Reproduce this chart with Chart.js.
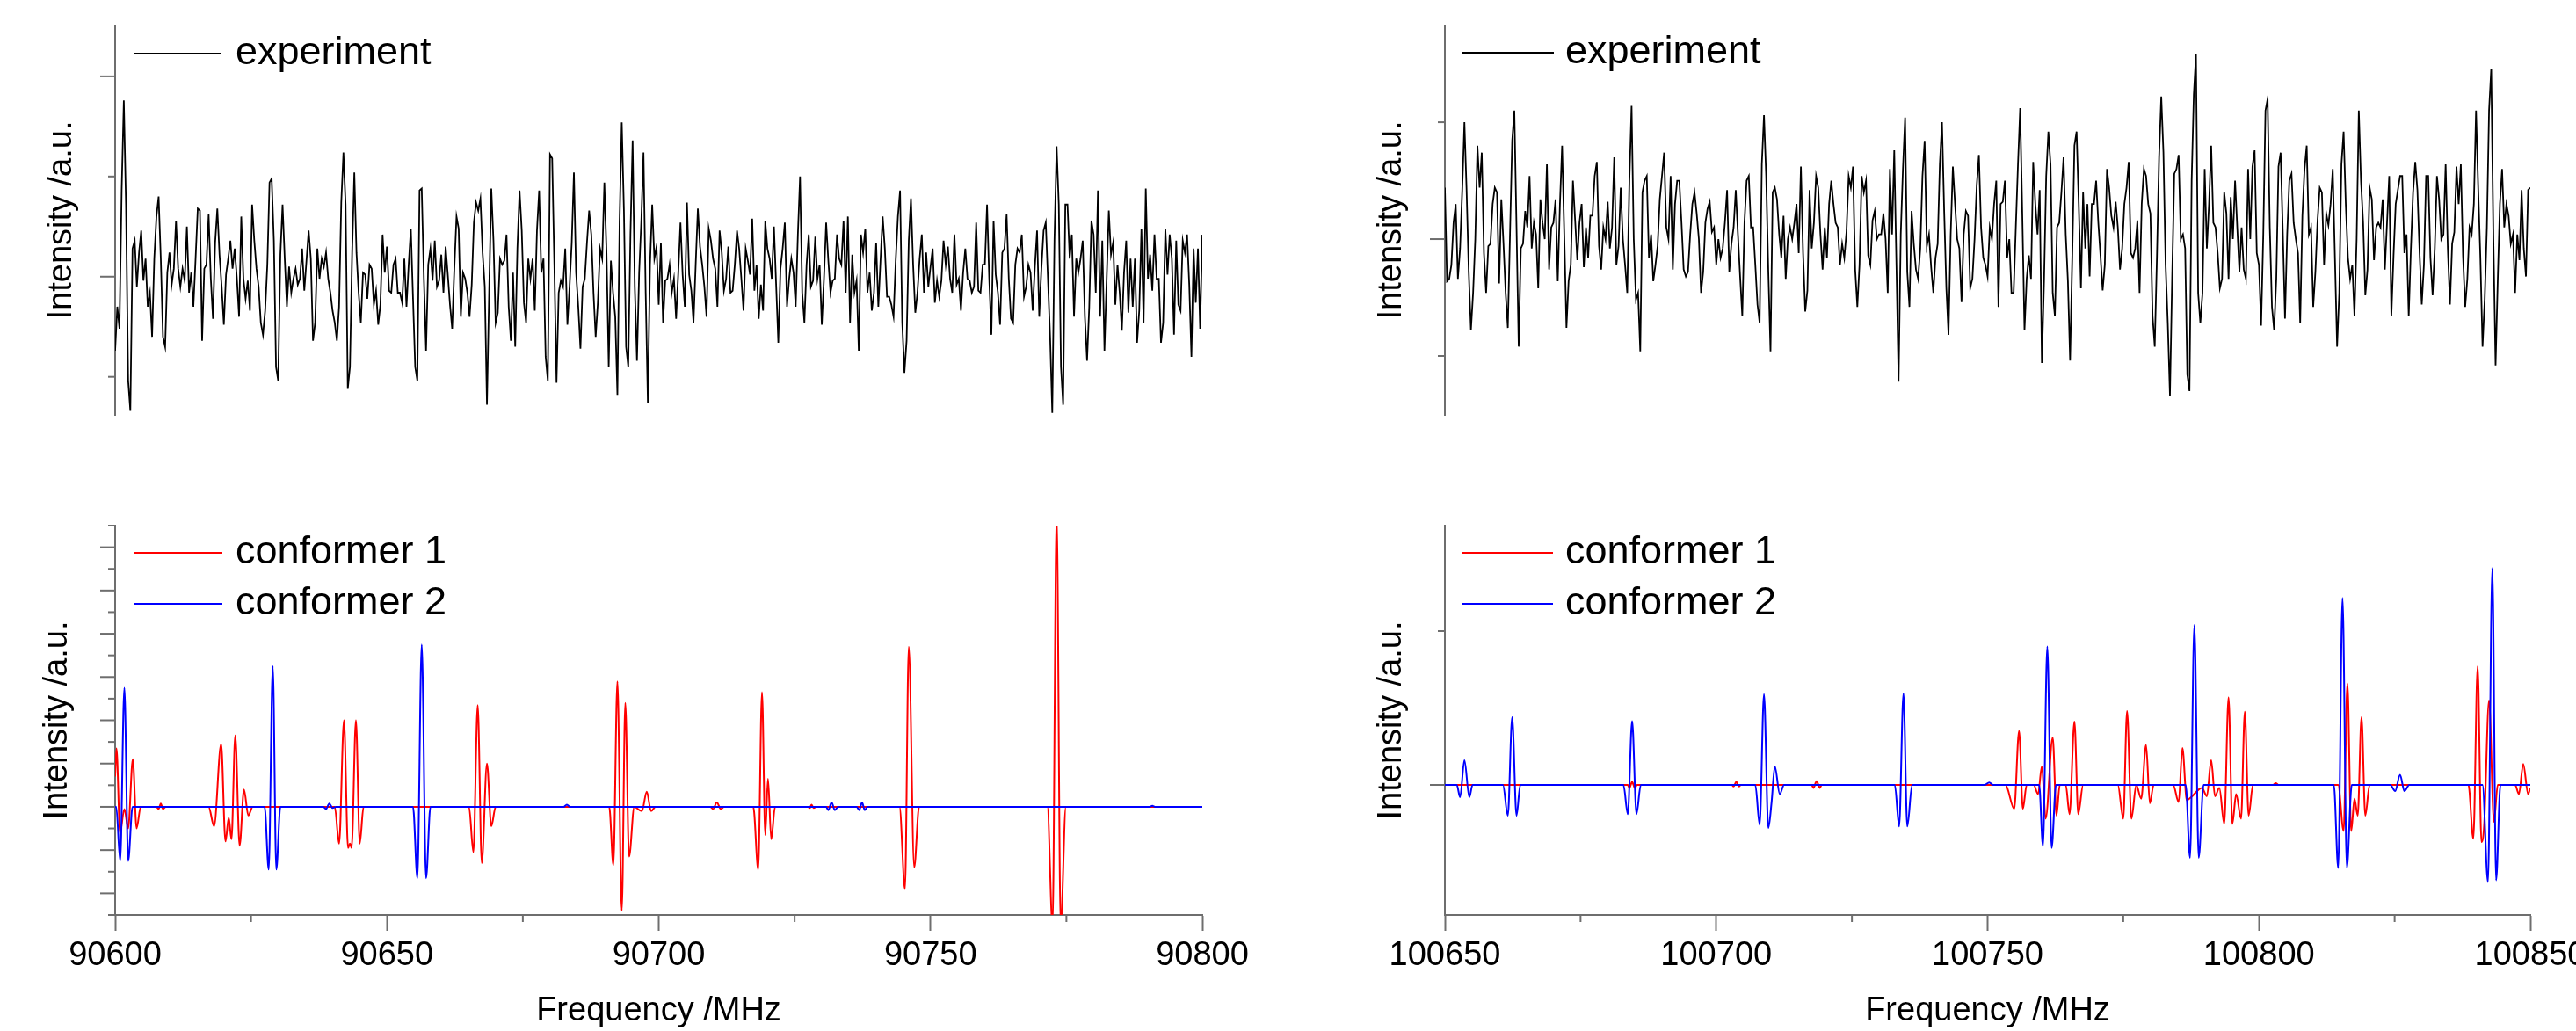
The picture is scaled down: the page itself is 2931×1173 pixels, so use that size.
<!DOCTYPE html>
<html>
<head>
<meta charset="utf-8">
<title>Spectra</title>
<script src="https://cdn.jsdelivr.net/npm/chart.js@4/dist/chart.umd.min.js"></script>
<style>
  html, body { margin: 0; padding: 0; width: 2931px; height: 1173px; overflow: hidden; background: #fff; }
  canvas { position: absolute; }
</style>
</head>
<body>
<canvas id="tl" width="1440" height="500" style="left:0;top:0"></canvas>
<canvas id="bl" width="1440" height="613" style="left:0;top:560px"></canvas>
<canvas id="tr" width="1420" height="500" style="left:1540px;top:0"></canvas>
<canvas id="br" width="1420" height="613" style="left:1540px;top:560px"></canvas>
<script>
// frequency windows (MHz)
const leftRange = [90600, 90800]
const rightRange = [100650, 100850]
const xTicksLeft = [90625, 90675, 90725, 90775]
const xTicksRight = [100675, 100725, 100775, 100825]

// experiment, 90600-90800 MHz, sampled every 0.4 MHz
const experimentLeft = [
  -37,-15,-26,43,88,36,-52,-67,14,18, -5,12,23,-2,9,-15,-8,-30,9,30,
  40,9,-30,-35,2,12,-4,4,28,4, -5,4,-2,25,-8,2,-15,9,34,33,
  -32,4,6,31,-1,-21,17,34,11,-5, -24,1,9,18,4,14,-1,-20,30,-1,
  -11,-2,-17,36,18,4,-5,-23,-29,-17, 6,47,49,18,-45,-52,11,36,9,-15,
  5,-8,-1,4,-4,-1,14,-7,8,23, 9,-32,-23,14,-1,9,5,12,-1,-8,
  -17,-23,-32,-15,37,62,36,-56,-45,12, 52,12,-8,-23,2,1,-11,6,4,-14,
  -7,-24,-14,21,2,15,-7,-8,6,9, -8,-8,-13,9,-15,6,24,-11,-45,-52,
  43,44,-1,-37,6,14,-2,18,-5,-2, 11,-8,15,1,-14,-26,4,30,24,-20,
  2,-1,-8,-20,-4,27,37,33,39,12, -5,-64,-8,44,18,-23,-18,9,6,8,
  21,-15,-32,2,-35,14,43,23,-13,-23, 9,-1,9,-17,23,43,2,9,-40,-52,
  61,59,6,-53,-8,-2,-5,14,-24,-5, 17,52,2,-15,-36,-5,-1,17,33,21,
  -8,-30,-13,14,9,47,12,-45,8,-8, -20,-59,27,77,33,-35,-45,21,68,-5,
  -42,2,28,62,-8,-63,6,36,9,15, -14,17,-23,-2,-1,6,-8,-1,-21,2,
  27,1,-15,37,1,-7,-23,6,34,15, 6,-5,-20,24,18,9,4,-15,23,12,
  -7,-1,15,-8,-7,6,23,14,-1,-17, 14,8,1,29,-7,6,-21,-4,-17,28,
  14,9,-1,25,-4,-33,4,14,27,-15, -1,9,2,-15,21,50,-8,-23,6,21,
  -5,-2,20,-1,6,-24,-1,27,8,-8, -2,-1,21,9,6,28,-8,30,-23,11,
  -8,-2,-37,21,12,24,-8,2,-17,-8, 17,-15,8,30,14,-10,-10,-14,-20,8,
  30,43,-23,-48,-32,18,39,6,-18,-8, 9,21,-8,12,-5,5,14,-13,-2,-10,
  -2,18,6,15,-1,-8,21,-4,-1,-17, 2,14,-1,-2,-8,-5,27,-7,-8,6,
  6,36,-1,-29,28,1,-8,-24,12,14, 31,-1,-21,-23,6,14,12,21,-10,-5,
  6,2,-17,5,23,-20,4,23,27,-1, -30,-68,18,65,36,-45,-64,36,36,9,
  21,-20,9,2,9,18,-20,-42,-15,28, 21,-8,43,-20,18,-37,-2,33,11,17,
  -14,6,-8,-27,2,18,-18,9,-15,9, -33,-17,24,-23,44,-1,11,-7,21,-1,
  -1,-33,-23,24,1,21,9,-29,18,-14, -17,18,12,21,-4,-40,14,-13,14,-26,
  21
]

// experiment, 100650-100850 MHz, sampled every 0.4 MHz
const experimentRight = [
  22,-18,-17,-11,7,15,-17,-4,21,50, 21,-14,-39,-23,0,40,22,37,-6,-23,
  -3,-2,15,22,20,-19,17,-2,-23,-38, 2,42,55,5,-46,-4,-2,12,5,27,
  -4,7,2,-21,17,7,0,32,-13,5, 7,17,-18,15,40,2,-38,-18,-11,25,
  8,-9,7,15,-12,5,-8,10,10,27, 33,-3,-13,5,0,16,-4,5,35,-11,
  -3,22,0,-11,-23,25,57,0,-26,-23, -48,20,25,27,-8,2,-18,-11,-3,17,
  27,37,5,0,27,-13,15,25,25,7, -13,-16,-14,2,15,20,11,0,-23,-14,
  7,13,16,3,5,-11,0,-8,-4,7, 21,-14,-2,5,21,2,-16,-33,7,25,
  27,5,5,-11,-28,-36,32,53,27,-14, -48,20,22,17,2,-8,10,-17,0,5,
  0,7,15,-6,31,-6,-31,-22,21,-4, 7,27,22,2,-13,5,-8,15,25,15,
  7,5,-11,-2,-8,3,27,22,31,-13, -29,-11,27,20,25,-7,-11,8,12,0,
  2,2,11,0,-23,30,2,38,-11,-61, 2,30,52,-14,-29,12,-2,-13,-17,-4,
  27,42,-3,2,-12,-23,-8,-2,32,50, 12,-21,-41,2,31,15,0,-4,-27,2,
  12,10,-21,-17,0,23,36,5,-8,-11, -16,5,0,15,25,-29,15,16,25,-8,
  0,-23,-23,5,32,56,10,-39,-17,-7, -17,33,15,2,21,-53,-18,27,46,32,
  -23,-33,5,7,20,35,2,-18,-52,-8, 40,46,15,-21,20,-4,15,-16,15,15,
  25,7,-7,-22,-11,30,22,10,5,16, 5,-13,-4,15,22,33,-6,-8,-4,8,
  -23,15,30,27,15,11,-33,-46,-8,35, 61,37,-11,-36,-67,-17,28,30,36,0,
  2,-4,-58,-65,25,62,79,-23,-36,-23, 30,-4,15,40,7,5,-6,-21,-17,20,
  11,-17,18,0,25,5,-14,5,-13,-17, 30,0,31,38,-6,-11,-37,2,55,60,
  5,-29,-39,-17,31,37,3,-34,2,25, 28,7,0,-6,-36,10,30,40,2,5,
  -29,-14,8,22,20,-11,11,6,15,30, -8,-46,-23,32,46,15,-8,-17,-11,-33,
  0,55,25,7,-24,-13,22,17,-9,5, 7,5,17,-13,7,27,-33,-7,15,21,
  27,27,-6,2,-33,-4,20,33,21,-6, -28,-11,27,27,-8,-24,-4,27,17,0,
  2,32,-4,-28,-2,3,31,15,32,-7, -29,-17,5,2,15,55,22,-8,-46,-26,
  5,55,73,0,-54,-18,15,30,5,15, 10,-2,2,-23,2,-9,21,-4,-16,21,
  22
]

// simulated spectra [frequency, intensity]
const conformer1Left = [
  [90600, 14], [90600.25, 27], [90600.9, -12], [90601.7, -1], [90602.4, -10], [90603.25, 22], [90603.95, -10], [90604.7, 0],
  [90607.6, 0], [90608, -1], [90608.4, 1.5], [90608.8, -1], [90609.3, 0],
  [90617.2, 0], [90618.2, -9], [90619.5, 29], [90620.3, -16], [90620.9, -5], [90621.4, -15], [90622.1, 33], [90622.9, -18], [90623.7, 8], [90624.5, -4], [90625.3, 0],
  [90640.4, 0], [90641.2, -17], [90642.1, 40], [90642.85, -19], [90643.2, -17], [90643.5, -19], [90644.3, 40], [90645.0, -17], [90645.7, 0],
  [90665.1, 0], [90665.9, -21], [90666.7, 47], [90667.45, -26], [90668.4, 20], [90669.2, -9], [90670.0, 0],
  [90690.9, 0], [90691.65, -27], [90692.4, 58], [90693.2, -48], [90693.85, 48], [90694.55, -23], [90695.5, 0], [90696.9, -2], [90697.8, 7], [90698.6, -2], [90699.4, 0],
  [90709.5, 0], [90710.0, -1], [90710.7, 2], [90711.4, -1], [90712, 0],
  [90717.4, 0], [90718.3, -29], [90719.0, 53], [90719.6, -13], [90720.1, 13], [90720.7, -15], [90721.4, 0],
  [90727.4, 0], [90727.8, -0.5], [90728.1, 1], [90728.5, -0.5], [90729, 0],
  [90744.3, 0], [90745.3, -38], [90746.0, 74], [90747.0, -28], [90747.9, 0],
  [90771.5, 0], [90772.45, -55], [90773.2, 135], [90773.95, -55], [90774.9, 0],
  [90800, 0]
]
const conformer2Left = [
  [90600, 0], [90600.2, 0], [90600.93, -25], [90601.7, 55], [90602.4, -25], [90603.2, 0],
  [90627.5, 0], [90628.25, -29], [90629.0, 65], [90629.65, -29], [90630.4, 0],
  [90638.3, 0], [90638.8, -1], [90639.4, 1.5], [90640.0, -0.5], [90640.6, 0],
  [90654.8, 0], [90655.6, -33], [90656.4, 75], [90657.2, -33], [90658.0, 0],
  [90682.5, 0], [90683.1, 1], [90683.7, 0],
  [90730.8, 0], [90731.2, -1.5], [90731.8, 2], [90732.4, -1.5], [90733, 0],
  [90736.4, 0], [90736.9, -1.5], [90737.4, 2], [90737.9, -1.5], [90738.4, 0],
  [90790.3, 0], [90790.8, 0.5], [90791.3, 0],
  [90800, 0]
]
const conformer1Right = [
  [100650, 0],
  [100683.7, 0], [100684.0, -1], [100684.5, 1], [100685.0, -1], [100685.4, 0],
  [100702.9, 0], [100703.2, -0.5], [100703.7, 1], [100704.2, -0.5], [100704.5, 0],
  [100717.6, 0], [100717.9, -1], [100718.5, 1.2], [100719.1, -1], [100719.4, 0],
  [100753.3, 0], [100754.9, -7.8], [100755.8, 17.6], [100756.5, -7.8], [100757.2, 0],
  [100758.5, 0], [100759.3, -3], [100760.0, 6], [100760.7, -11], [100762.0, 15.4], [100762.7, -10], [100763.3, 0],
  [100764.4, 0], [100765.1, -9.5], [100766.0, 20.6], [100766.7, -9.5], [100767.6, 0],
  [100774.0, 0], [100775.0, -11], [100775.7, 24], [100776.5, -11], [100777.4, 0], [100778.3, -4.5], [100779.2, 13], [100779.9, -6], [100780.6, 0],
  [100784.2, 0], [100785.2, -5.6], [100785.9, 12], [100786.7, -5], [100787.5, -4], [100789.5, -1],
  [100790.4, -3.7], [100791.2, 8], [100791.9, -3.7], [100792.7, -1], [100793.6, -12.7], [100794.4, 28.4], [100795.1, -12.7], [100795.8, -3], [100796.7, -11], [100797.4, 23.8], [100798.1, -10], [100798.9, 0],
  [100802.6, 0], [100803.1, 0.6], [100803.6, 0],
  [100814.6, 0], [100815.6, -15], [100816.3, 33], [100817.0, -15], [100817.6, -4.5], [100818.2, -10], [100818.9, 22], [100819.6, -10], [100820.4, 0],
  [100838.6, 0], [100839.5, -17.5], [100840.3, 38.6], [100841.0, -18.6], [100841.5, -13], [100842.4, 27.5], [100843.3, -12], [100844.0, 0],
  [100847.2, 0], [100847.9, -3], [100848.7, 6.8], [100849.6, -3], [100850, -1]
]
const conformer2Right = [
  [100650, 0], [100652.2, 0], [100652.8, -4], [100653.6, 8], [100654.5, -4], [100655.1, 0],
  [100660.7, 0], [100661.6, -10], [100662.4, 22], [100663.2, -10], [100663.9, 0],
  [100682.9, 0], [100683.7, -9.5], [100684.5, 20.7], [100685.3, -9.5], [100686.1, 0],
  [100707.2, 0], [100708.0, -13], [100708.8, 29.5], [100709.6, -14], [100710.2, -5.6], [100710.8, 6], [100711.7, -3], [100712.5, 0],
  [100732.9, 0], [100733.7, -13.5], [100734.5, 29.7], [100735.2, -13.5], [100736.1, 0],
  [100749.5, 0], [100750.3, 0.8], [100751.0, 0],
  [100759.5, 0], [100760.2, -20], [100761.0, 45], [100761.8, -20.5], [100762.6, 0],
  [100786.5, 0], [100787.3, -23.7], [100788.1, 52], [100788.9, -23.7], [100789.8, 0],
  [100813.8, 0], [100814.6, -27], [100815.4, 60.8], [100816.2, -27], [100817.1, 0],
  [100824.2, 0], [100825.1, -2], [100826.0, 3.3], [100826.8, -2], [100827.7, 0],
  [100841.2, 0], [100842.2, -31.6], [100843.0, 70.5], [100843.7, -31], [100844.5, 0],
  [100850, 0]
]

const axisColor = '#6e6e6e'
const fontFamily = '"Liberation Sans", Arial, Helvetica, sans-serif'
Chart.defaults.font.family = fontFamily
Chart.defaults.color = '#000'

// draws the y ticks (and minor x ticks) with two lengths
const axisTicks = {
    id: 'axisTicks',
    afterDraw(chart, args, opts) {
        const {ctx, chartArea} = chart
        const x = chart.scales.x, y = chart.scales.y
        ctx.save()
        ctx.strokeStyle = axisColor
        ctx.lineWidth = 2
        const tick = (x1, y1, x2, y2) => { ctx.beginPath(); ctx.moveTo(x1, y1); ctx.lineTo(x2, y2); ctx.stroke() }
        ;(opts.yMajor || []).forEach(v => { const p = y.getPixelForValue(v); tick(chartArea.left - 17, p, chartArea.left, p) })
        ;(opts.yMinor || []).forEach(v => { const p = y.getPixelForValue(v); tick(chartArea.left - 8, p, chartArea.left, p) })
        ;(opts.xMinor || []).forEach(v => { const p = x.getPixelForValue(v); tick(p, chartArea.bottom, p, chartArea.bottom + 8) })
        ctx.restore()
    }
}

// legend drawn inside the plot, top left
const insideLegend = {
    id: 'insideLegend',
    afterDraw(chart, args, opts) {
        const {ctx, chartArea} = chart
        ctx.save()
        ctx.font = '45px ' + fontFamily
        ctx.textBaseline = 'middle'
        chart.data.datasets.forEach((ds, i) => {
            const yy = chartArea.top + opts.top + i * (opts.gap || 0)
            ctx.strokeStyle = ds.borderColor
            ctx.lineWidth = 2
            ctx.beginPath()
            ctx.moveTo(chartArea.left + opts.x0, yy)
            ctx.lineTo(chartArea.left + opts.x1, yy)
            ctx.stroke()
            ctx.fillStyle = '#000'
            ctx.fillText(ds.label, chartArea.left + 137, yy)
        })
        ctx.restore()
    }
}

const spectrumChart = (id, cfg) => new Chart(document.getElementById(id), {
    type: 'line',
    data: { datasets: cfg.datasets },
    options: {
        responsive: false,
        animation: false,
        events: [],
        layout: { padding: cfg.padding },
        elements: { point: { radius: 0 } },
        plugins: {
            legend: { display: false },
            tooltip: { enabled: false },
            axisTicks: cfg.ticks,
            insideLegend: cfg.legend
        },
        scales: {
            x: {
                type: 'linear',
                min: cfg.range[0],
                max: cfg.range[1],
                display: cfg.showX,
                afterFit: cfg.showX ? (s => { s.height = 132 }) : undefined,
                border: { display: true, color: axisColor, width: 2 },
                grid: { drawOnChartArea: false, drawTicks: true, tickLength: 18, tickColor: axisColor, tickWidth: 2 },
                ticks: { stepSize: 50, padding: 6, autoSkip: false, maxRotation: 0, font: { size: 38 }, color: '#000', callback: v => String(v) },
                title: { display: true, text: 'Frequency /MHz', font: { size: 38 }, color: '#000', padding: { top: 0, bottom: 0 } }
            },
            y: {
                min: cfg.yRange[0],
                max: cfg.yRange[1],
                afterFit: s => { s.width = cfg.yWidth },
                border: { display: true, color: axisColor, width: 2 },
                grid: { display: false },
                ticks: { display: false },
                title: { display: true, text: 'Intensity /a.u.', font: { size: 38 }, color: '#000', padding: { top: cfg.titlePad, bottom: 0 } }
            }
        }
    },
    plugins: [axisTicks, insideLegend]
})

const experimentSet = (values, range) => {
    const step = (range[1] - range[0]) / (values.length - 1)
    return {
        label: 'experiment',
        borderColor: '#000',
        borderWidth: 1.8,
        data: values.map((v, i) => ({ x: range[0] + i * step, y: v }))
    }
}

const conformerSet = (label, color, points, order) => ({
    label: label,
    borderColor: color,
    borderWidth: 2,
    cubicInterpolationMode: 'monotone',
    order: order,
    data: points.map(p => ({ x: p[0], y: p[1] }))
})

spectrumChart('tl', {
    datasets: [experimentSet(experimentLeft, leftRange)],
    range: leftRange, yRange: [-69, 125.4], showX: false,
    padding: { left: 0, top: 29, right: 72, bottom: 28 },
    yWidth: 131, titlePad: 48,
    ticks: { yMajor: [0, 100], yMinor: [-50, 50] },
    legend: { x0: 22, x1: 121, top: 32 }
})

spectrumChart('bl', {
    datasets: [conformerSet('conformer 1', '#ff0000', conformer1Left, 1), conformerSet('conformer 2', '#0000ff', conformer2Left, 0)],
    range: leftRange, yRange: [-50, 130], showX: true,
    padding: { left: 0, top: 38, right: 72, bottom: 0 },
    yWidth: 131, titlePad: 43,
    ticks: { yMajor: [-40, -20, 0, 20, 40, 60, 80, 100, 120], yMinor: [-50, -30, -10, 10, 30, 50, 70, 90, 110, 130], xMinor: xTicksLeft },
    legend: { x0: 22, x1: 122, top: 31, gap: 58 }
})

spectrumChart('tr', {
    datasets: [experimentSet(experimentRight, rightRange)],
    range: rightRange, yRange: [-75.2, 91.4], showX: false,
    padding: { left: 0, top: 29, right: 81, bottom: 28 },
    yWidth: 104, titlePad: 21,
    ticks: { yMajor: [0], yMinor: [-50, 50] },
    legend: { x0: 20, x1: 124, top: 31 }
})

spectrumChart('br', {
    datasets: [conformerSet('conformer 1', '#ff0000', conformer1Right, 1), conformerSet('conformer 2', '#0000ff', conformer2Right, 0)],
    range: rightRange, yRange: [-42.3, 84.3], showX: true,
    padding: { left: 0, top: 38, right: 81, bottom: 0 },
    yWidth: 104, titlePad: 21,
    ticks: { yMajor: [0], yMinor: [50], xMinor: xTicksRight },
    legend: { x0: 19, x1: 123, top: 31, gap: 58 }
})
</script>
</body>
</html>
